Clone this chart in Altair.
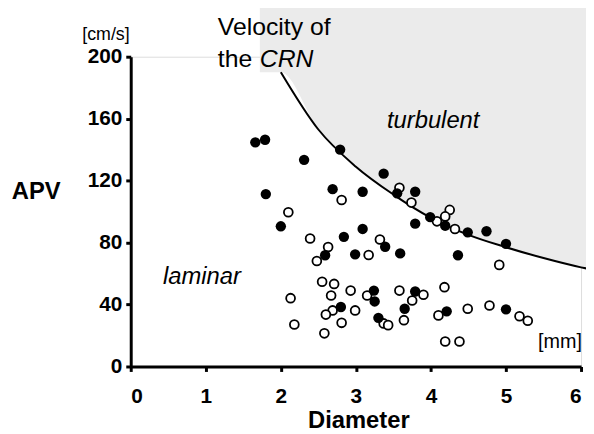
import altair as alt
import pandas as pd

# --- data ---
filled_x = [1.66, 1.79, 2.31, 2.79, 1.80, 3.37, 2.69, 3.09, 3.55, 3.79, 3.79, 3.99, 4.19, 4.49,
            4.74, 5.00, 4.36, 2.00, 2.84, 3.09, 2.59, 2.99, 3.39, 3.59, 3.24, 3.25, 3.79, 2.80,
            3.65, 3.30, 4.21, 5.00]
filled_y = [144.7, 146.4, 133.4, 140.0, 111.3, 124.5, 114.5, 112.8, 111.8, 112.8, 92.2, 96.4,
            90.9, 86.6, 87.3, 79.2, 71.8, 90.5, 83.7, 88.8, 71.8, 72.4, 77.3, 73.0, 49.0, 42.0,
            48.4, 38.4, 37.3, 31.4, 35.6, 36.9]

open_x = [2.10, 2.81, 3.58, 3.74, 4.25, 4.19, 4.08, 4.32, 2.39, 2.63, 2.48, 3.32, 3.17, 4.91,
          2.13, 2.18, 2.55, 2.71, 2.67, 2.93, 2.69, 2.60, 2.81, 2.58, 2.99, 3.15, 3.58, 3.75,
          3.90, 3.64, 3.37, 3.43, 4.18, 4.10, 4.49, 4.78, 5.18, 5.29, 4.19, 4.38]
open_y = [99.6, 107.5, 115.4, 105.8, 101.1, 96.9, 93.7, 88.8, 82.6, 77.1, 68.1, 82.0, 72.0, 65.6,
          44.1, 27.1, 54.7, 53.3, 45.8, 49.0, 36.2, 33.5, 28.2, 21.4, 36.2, 45.8, 49.0, 42.6,
          46.3, 29.9, 27.8, 26.7, 51.2, 33.0, 37.3, 39.4, 32.4, 29.5, 16.1, 16.1]

# critical Reynolds number velocity curve
crn_x = [2.0, 2.5, 3.0, 3.5, 4.0, 4.5, 5.0, 5.5, 6.0, 6.1]
crn_y = [190, 153, 129, 111, 96, 85, 77, 70, 64, 63]

# shaded turbulent region (upper bound above the plot top)
shade_x = [1.72, 2.0, 2.5, 3.0, 3.5, 4.0, 4.5, 5.0, 5.5, 6.0, 6.1]
shade_lo = [190, 190, 153, 129, 111, 96, 85, 77, 70, 64, 63]
shade_top = 232

x_ticks = [0, 1, 2, 3, 4, 5, 6]
y_ticks = [0, 40, 80, 120, 160, 200]

FONT = "Liberation Sans"

xs = alt.Scale(domain=[0, 6], nice=False, zero=False)
ys = alt.Scale(domain=[0, 200], nice=False, zero=False)

xaxis = alt.Axis(values=x_ticks, format="d", title="Diameter", grid=False, domainColor="black",
                 domainWidth=3, tickColor="black", tickWidth=3, tickSize=5,
                 labelFont=FONT, labelFontSize=21, labelFontWeight="bold", labelColor="black",
                 labelPadding=14, titleFont=FONT, titleFontSize=24, titleFontWeight="bold",
                 titleColor="black", titleX=230, titleY=62, titleBaseline="alphabetic",
                 titleAnchor="start", titleAlign="center")
yaxis = alt.Axis(values=y_ticks, format="d", title="APV", grid=False, domainColor="black",
                 domainWidth=3, tickColor="black", tickWidth=3, tickSize=5,
                 labelFont=FONT, labelFontSize=21, labelFontWeight="bold", labelColor="black",
                 labelPadding=4, titleFont=FONT, titleFontSize=24, titleFontWeight="bold",
                 titleColor="black", titleAngle=0, titleX=-96, titleY=143,
                 titleBaseline="alphabetic", titleAlign="center", titleAnchor="start")

shade_df = pd.DataFrame({"x": shade_x, "lo": shade_lo, "hi": [shade_top] * len(shade_x)})
shade = alt.Chart(shade_df).mark_area(color="#ebebeb", interpolate="monotone").encode(
    x=alt.X("x:Q", scale=xs, axis=xaxis),
    y=alt.Y("lo:Q", scale=ys, axis=yaxis),
    y2="hi:Q",
)

crn_df = pd.DataFrame({"x": crn_x, "y": crn_y})
curve = alt.Chart(crn_df).mark_line(color="black", strokeWidth=2, interpolate="monotone").encode(
    x=alt.X("x:Q", scale=xs), y=alt.Y("y:Q", scale=ys)
)

open_df = pd.DataFrame({"x": open_x, "y": open_y})
opens = alt.Chart(open_df).mark_point(shape="circle", filled=False, color="black", fill="white",
                                      fillOpacity=1, strokeWidth=1.8, size=80, opacity=1).encode(
    x=alt.X("x:Q", scale=xs), y=alt.Y("y:Q", scale=ys)
)

filled_df = pd.DataFrame({"x": filled_x, "y": filled_y})
filleds = alt.Chart(filled_df).mark_circle(color="black", size=110, opacity=1).encode(
    x=alt.X("x:Q", scale=xs), y=alt.Y("y:Q", scale=ys)
)

# annotations: text, position (data units), style
ann_text = ["[cm/s]", "[mm]", "Velocity of", "the", "CRN", "turbulent", "laminar"]
ann_x = [-0.33, 5.72, 1.16, 1.16, 1.72, 4.03, 0.43]
ann_y = [210.5, 11.8, 214.0, 193.6, 193.6, 154.0, 53.3]
ann_style = ["normal", "normal", "normal", "normal", "italic", "italic", "italic"]
ann_align = ["center", "center", "left", "left", "left", "center", "left"]
ann_size = [18, 20, 25, 25, 25, 24, 24]

layers = [shade, curve, opens, filleds]
for t, ax, ay, st, al, sz in zip(ann_text, ann_x, ann_y, ann_style, ann_align, ann_size):
    df = pd.DataFrame({"x": [ax], "y": [ay], "t": [t]})
    layers.append(
        alt.Chart(df).mark_text(font=FONT, fontSize=sz, fontStyle=st, align=al,
                                baseline="alphabetic", color="black").encode(
            x=alt.X("x:Q", scale=xs), y=alt.Y("y:Q", scale=ys), text="t:N")
    )

chart = alt.layer(*layers).properties(
    width=455, height=313,
    autosize=alt.AutoSizeParams(type="none"),
    padding={"left": 124, "top": 47, "right": 5, "bottom": 66},
).configure_view(stroke=None).configure(background="white")

chart.save("out.html", embed_options={"renderer": "svg", "actions": False})
